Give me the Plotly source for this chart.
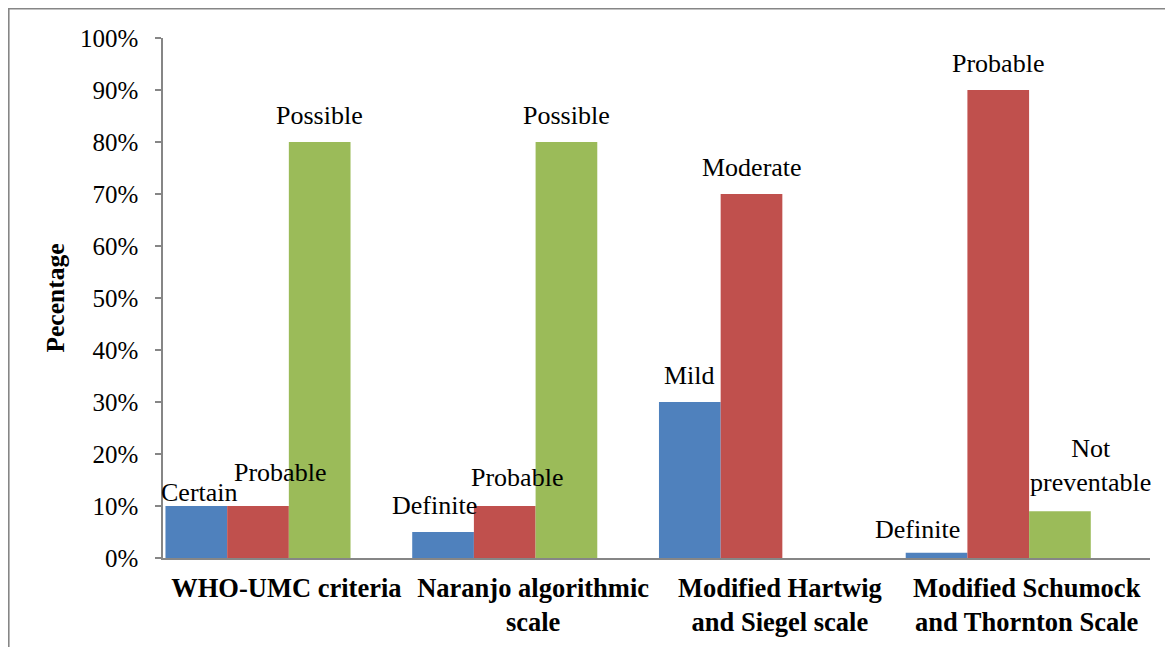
import plotly.graph_objects as go

categories = ["WHO-UMC criteria", "Naranjo algorithmic<br>scale",
              "Modified Hartwig<br>and Siegel scale", "Modified Schumock<br>and Thornton Scale"]
blue_values = [0.10, 0.05, 0.30, 0.01]
red_values = [0.10, 0.10, 0.70, 0.90]
green_values = [0.80, 0.80, 0.00, 0.09]
blue_labels = ["Certain", "Definite", "Mild", "Definite"]
red_labels = ["Probable", "Probable", "Moderate", "Probable"]
green_labels = ["Possible", "Possible", "", "Not<br>preventable"]
y_ticks = [0, 0.1, 0.2, 0.3, 0.4, 0.5, 0.6, 0.7, 0.8, 0.9, 1.0]

# the page body adds an 8px margin, so the figure is 8px smaller than the window
W, H = 1165, 639
L, R, T, B = 155, 23, 30, 89
FONT = "Liberation Serif"
AXIS_GRAY = "#868686"

series = [
    (blue_values, blue_labels, "#4F81BD", -0.49),
    (red_values, red_labels, "#C0504D", -0.24),
    (green_values, green_labels, "#9BBB59", 0.01),
]
bar_w = 0.25

# per-label pixel nudges (xshift, yshift) to mimic manual label placement
nudges = {
    (0, 0): (3, -13), (1, 0): (22, 7), (2, 0): (0, 0),
    (0, 1): (-9, 0), (1, 1): (12, 2), (2, 1): (0, 0),
    (0, 2): (0, 0), (1, 2): (0, 0), (2, 2): (0, 0),
    (0, 3): (-19, -3), (1, 3): (0, 0), (2, 3): (31, 2),
}

fig = go.Figure()
annotations = []
for s, (vals, labels, color, off) in enumerate(series):
    fig.add_trace(go.Bar(
        x=categories, y=vals, marker=dict(color=color, line=dict(width=0)),
        offset=off, width=bar_w, showlegend=False, hoverinfo="skip"))
    for i, (v, lab) in enumerate(zip(vals, labels)):
        if not lab:
            continue
        dx, dy = nudges[(s, i)]
        annotations.append(dict(
            x=i + off + bar_w / 2, y=v, xref="x", yref="y", text=lab,
            showarrow=False, xanchor="center", yanchor="bottom",
            xshift=dx, yshift=11 + dy, borderpad=0,
            font=dict(family=FONT, size=26, color="black")))

pw = W - L - R
ph = H - T - B
px_x = lambda p: (p - L) / pw
px_y = lambda p: 1 - (p - T) / ph
border_top = dict(type="line", xref="paper", yref="paper",
                  x0=px_x(0), x1=px_x(W + 5), y0=px_y(0.8), y1=px_y(0.8),
                  line=dict(color=AXIS_GRAY, width=1.6))
border_left = dict(type="line", xref="paper", yref="paper",
                   x0=px_x(0.8), x1=px_x(0.8), y0=px_y(0), y1=px_y(H + 5),
                   line=dict(color=AXIS_GRAY, width=1.6))

fig.update_layout(
    width=W, height=H, margin=dict(l=L, r=R, t=T, b=B, autoexpand=False),
    paper_bgcolor="white", plot_bgcolor="white",
    barmode="overlay", annotations=annotations, shapes=[border_top, border_left],
    font=dict(family=FONT, color="black"),
    xaxis=dict(type="category", range=[-0.5, 3.5], showgrid=False, zeroline=False,
               showline=True, linecolor=AXIS_GRAY, linewidth=1.5, ticks="",
               tickfont=dict(family=FONT, size=26.5, color="black", weight="bold"),
               ticklabelstandoff=5),
    yaxis=dict(range=[0, 1], tickvals=y_ticks, tickformat=".0%", showgrid=False,
               zeroline=False, showline=True, linecolor=AXIS_GRAY, linewidth=1.5,
               ticks="outside", ticklen=6, tickcolor=AXIS_GRAY, tickwidth=1.5,
               tickfont=dict(family=FONT, size=25, color="black"),
               ticklabelstandoff=12,
               title=dict(text="<b>Pecentage</b>", standoff=8,
                          font=dict(family=FONT, size=25.5, color="black"))),
)

fig.write_html("out.html")
